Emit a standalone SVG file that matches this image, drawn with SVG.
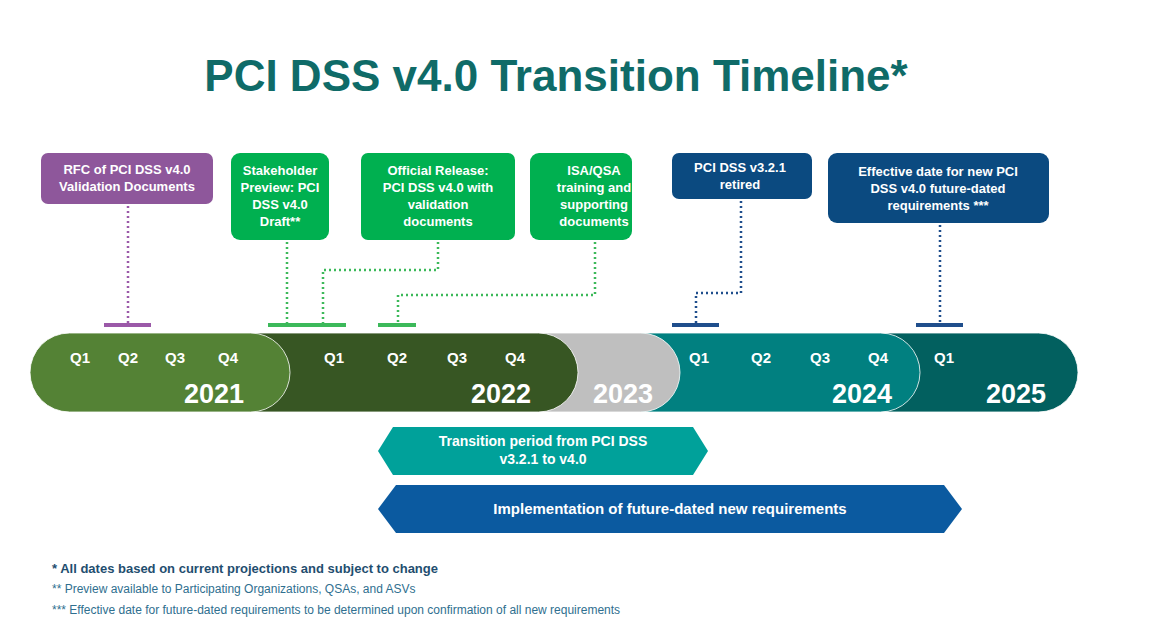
<svg xmlns="http://www.w3.org/2000/svg" width="1172" height="631" viewBox="0 0 1172 631">
<style>
text{font-family:"Liberation Sans",Arial,sans-serif;font-weight:bold;fill:#fff;text-anchor:middle}
.bt{font-size:13px}
.q{font-size:15px}
.yr{font-size:27px;text-anchor:end}
.dot{fill:none;stroke-width:2.5;stroke-dasharray:2 3}
.tick{stroke-width:4}
.fn{font-size:12px;fill:#2f6f8f;text-anchor:start;font-weight:normal}
</style>
<rect width="1172" height="631" fill="#fff"/>
<text x="556" y="91" style="font-size:44px;fill:#0f6b68">PCI DSS v4.0 Transition Timeline*</text>
<g id="connectors">
<path class="dot" stroke="#9b59a8" d="M128 206V323"/>
<line class="tick" stroke="#9b59a8" x1="104" y1="325" x2="151" y2="325"/>
<path class="dot" stroke="#3cb95a" d="M287 242V323"/>
<path class="dot" stroke="#3cb95a" d="M438 242V270H323V323"/>
<line class="tick" stroke="#3cb95a" x1="268" y1="325" x2="346" y2="325"/>
<path class="dot" stroke="#3cb95a" d="M595 242V295H398V323"/>
<line class="tick" stroke="#3cb95a" x1="378" y1="325" x2="416" y2="325"/>
<path class="dot" stroke="#1f4e8c" d="M741 201V293H696V323"/>
<line class="tick" stroke="#1f4e8c" x1="672" y1="325" x2="719" y2="325"/>
<path class="dot" stroke="#1f4e8c" d="M940 225V323"/>
<line class="tick" stroke="#1f4e8c" x1="916" y1="325" x2="963" y2="325"/>
</g>
<g id="timeline">
<rect x="850" y="333" width="228" height="79" rx="39.5" fill="#02605f" stroke="#fff" stroke-width="0.8"/>
<rect x="600" y="333" width="320" height="79" rx="39.5" fill="#018080" stroke="#fff" stroke-width="0.8"/>
<rect x="500" y="333" width="180" height="79" rx="39.5" fill="#bfbfbf" stroke="#fff" stroke-width="0.8"/>
<rect x="210" y="333" width="368" height="79" rx="39.5" fill="#375623" stroke="#fff" stroke-width="0.8"/>
<rect x="30" y="333" width="260" height="79" rx="39.5" fill="#548235" stroke="#fff" stroke-width="0.8"/>
<text class="q" x="80" y="363">Q1</text><text class="q" x="128" y="363">Q2</text><text class="q" x="175" y="363">Q3</text><text class="q" x="228" y="363">Q4</text>
<text class="yr" x="244" y="403">2021</text>
<text class="q" x="334" y="363">Q1</text><text class="q" x="397" y="363">Q2</text><text class="q" x="457" y="363">Q3</text><text class="q" x="515" y="363">Q4</text>
<text class="yr" x="531" y="403">2022</text>
<text class="yr" x="653" y="403">2023</text>
<text class="q" x="699" y="363">Q1</text><text class="q" x="761" y="363">Q2</text><text class="q" x="820" y="363">Q3</text><text class="q" x="878" y="363">Q4</text>
<text class="yr" x="892" y="403">2024</text>
<text class="q" x="944" y="363">Q1</text>
<text class="yr" x="1046" y="403">2025</text>
</g>
<g id="rfc"><rect x="41" y="153" width="172" height="51" rx="7" fill="#8e579b"/>
<text class="bt" x="127" y="174">RFC of PCI DSS v4.0</text><text class="bt" x="127" y="191">Validation Documents</text></g>
<g id="stakeholder"><rect x="231" y="153" width="98" height="87" rx="9" fill="#00b050"/>
<text class="bt" x="280" y="175">Stakeholder</text><text class="bt" x="280" y="192">Preview: PCI</text><text class="bt" x="280" y="209">DSS v4.0</text><text class="bt" x="280" y="226">Draft**</text></g>
<g id="official"><rect x="361" y="153" width="154" height="87" rx="7" fill="#00b050"/>
<text class="bt" x="438" y="175">Official  Release:</text><text class="bt" x="438" y="192">PCI DSS v4.0 with</text><text class="bt" x="438" y="209">validation</text><text class="bt" x="438" y="226">documents</text></g>
<g id="isa"><rect x="530" y="153" width="102" height="87" rx="9" fill="#00b050"/>
<text class="bt" x="594" y="175">ISA/QSA</text><text class="bt" x="594" y="192">training and</text><text class="bt" x="594" y="209">supporting</text><text class="bt" x="594" y="226">documents</text></g>
<g id="retired"><rect x="672" y="153" width="140" height="46" rx="7" fill="#0b4a80"/>
<text class="bt" x="740" y="172">PCI DSS v3.2.1</text><text class="bt" x="740" y="189">retired</text></g>
<g id="effective"><rect x="828" y="153" width="221" height="70" rx="9" fill="#0b4a80"/>
<text class="bt" x="938" y="176">Effective date for new PCI</text><text class="bt" x="938" y="193">DSS v4.0 future-dated</text><text class="bt" x="938" y="210">requirements ***</text></g>
<g id="transition"><polygon points="378,451 393,427 693,427 708,451 693,475 393,475" fill="#00a19a"/>
<text x="543" y="446" style="font-size:14px">Transition period from PCI DSS</text><text x="543" y="464" style="font-size:14px">v3.2.1 to v4.0</text></g>
<g id="implementation"><polygon points="378,509 396,485 944,485 962,509 944,533 396,533" fill="#0b5aa0"/>
<text x="670" y="514" style="font-size:15px">Implementation of future-dated new requirements</text></g>
<text class="fn" x="52" y="573" style="font-weight:bold;font-size:13px;fill:#1f4e6f">* All dates based on current projections and subject to change</text>
<text class="fn" x="52" y="593">** Preview available to Participating Organizations, QSAs, and ASVs</text>
<text class="fn" x="52" y="614">*** Effective date for future-dated  requirements to be determined upon confirmation  of all new requirements</text>
</svg>
